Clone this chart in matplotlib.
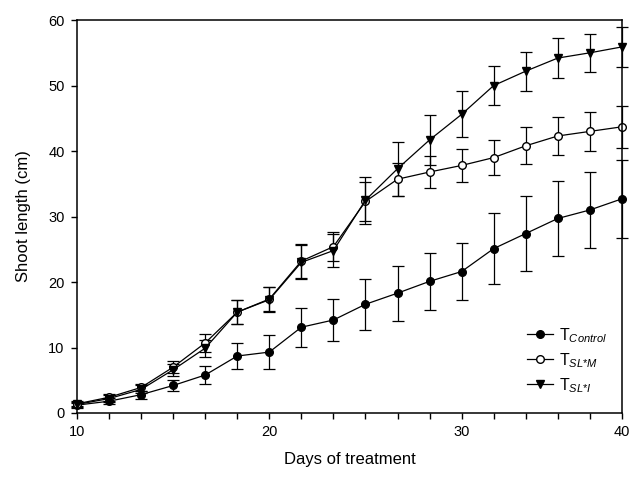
import matplotlib
matplotlib.use("Agg")
import matplotlib.pyplot as plt
import numpy as np

plt.rcParams['font.family'] = ['Liberation Sans', 'DejaVu Sans']
plt.rcParams['mathtext.fontset'] = 'custom'
plt.rcParams['mathtext.rm'] = 'Liberation Sans'
plt.rcParams['mathtext.it'] = 'Liberation Sans:italic'

# days of treatment (sampling points, evenly spaced on the axis)
days = [10, 11.7, 13.3, 15, 16.7, 18.3, 20, 21.7, 23.3, 25, 26.7, 28.3,
        30, 32, 34, 36, 38, 40]
day_labels = [10, 20, 30, 40]

control = [1.2, 1.8, 2.8, 4.2, 5.8, 8.7, 9.3, 13.1, 14.2, 16.6, 18.3, 20.1,
           21.6, 25.1, 27.4, 29.7, 31.0, 32.7]
control_err = [0.4, 0.5, 0.6, 0.9, 1.3, 2.0, 2.6, 3.0, 3.2, 3.9, 4.2, 4.3,
               4.4, 5.4, 5.7, 5.8, 5.8, 6.0]

slm = [1.4, 2.4, 3.9, 7.0, 10.7, 15.4, 17.4, 23.2, 25.4, 32.3, 35.7, 36.8,
       37.8, 39.0, 40.8, 42.3, 43.0, 43.7]
slm_err = [0.4, 0.5, 0.6, 0.9, 1.4, 1.8, 1.9, 2.6, 2.2, 3.0, 2.5, 2.5,
           2.5, 2.7, 2.8, 2.9, 3.0, 3.2]

sli = [1.3, 2.2, 3.6, 6.6, 9.9, 15.4, 17.3, 23.0, 24.8, 32.5, 37.3, 41.7,
       45.6, 50.0, 52.2, 54.2, 55.0, 55.9]
sli_err = [0.4, 0.5, 0.6, 0.9, 1.3, 1.8, 1.9, 2.6, 2.5, 3.6, 4.1, 3.8,
           3.5, 3.0, 3.0, 3.0, 2.9, 3.1]

labels = [r'T$_{\mathit{Control}}$', r'T$_{\mathit{SL{*}M}}$',
          r'T$_{\mathit{SL{*}I}}$']

pos = np.arange(len(days))

fig = plt.figure(figsize=(6.38, 4.78), dpi=100)
ax = fig.add_axes([0.1207, 0.136, 0.854, 0.822])

style = dict(color='black', lw=0.9, elinewidth=0.9, capsize=4.3,
             capthick=0.9, ms=5.5, mec='black', clip_on=False)
# control
e1 = ax.errorbar(pos, control, yerr=control_err, fmt='-o', mfc='black',
                 label=labels[0], **style)
# SL*M
e2 = ax.errorbar(pos, slm, yerr=slm_err, fmt='-o', mfc='white',
                 label=labels[1], **style)
# SL*I
e3 = ax.errorbar(pos, sli, yerr=sli_err, fmt='-v', mfc='black',
                 label=labels[2], **style)
for e in (e1, e2, e3):
    for c in e[1]:
        c.set_clip_on(False)
    for b in e[2]:
        b.set_clip_on(False)

ax.set_xlim(0, len(days) - 1)
ax.set_ylim(0, 60)
ax.set_yticks(range(0, 61, 10))
ax.set_xticks(pos)
ax.set_xticklabels([str(d) if d in day_labels else '' for d in days])

for s in ax.spines.values():
    s.set_linewidth(1.1)
ax.tick_params(direction='out', length=4, width=1, labelsize=10.5,
               top=False, right=False, pad=5)

ax.set_xlabel('Days of treatment', fontsize=12, labelpad=9)
ax.set_ylabel('Shoot length (cm)', fontsize=12, labelpad=12)

# legend shows line + marker only (no error bars)
leg = ax.legend(handles=[e1[0], e2[0], e3[0]], labels=labels,
                loc='lower right', bbox_to_anchor=(1.0, 0.01),
                frameon=False, fontsize=11.5, handlelength=1.6,
                handletextpad=0.4, labelspacing=0.4)

fig.savefig('out.png', dpi=100)
